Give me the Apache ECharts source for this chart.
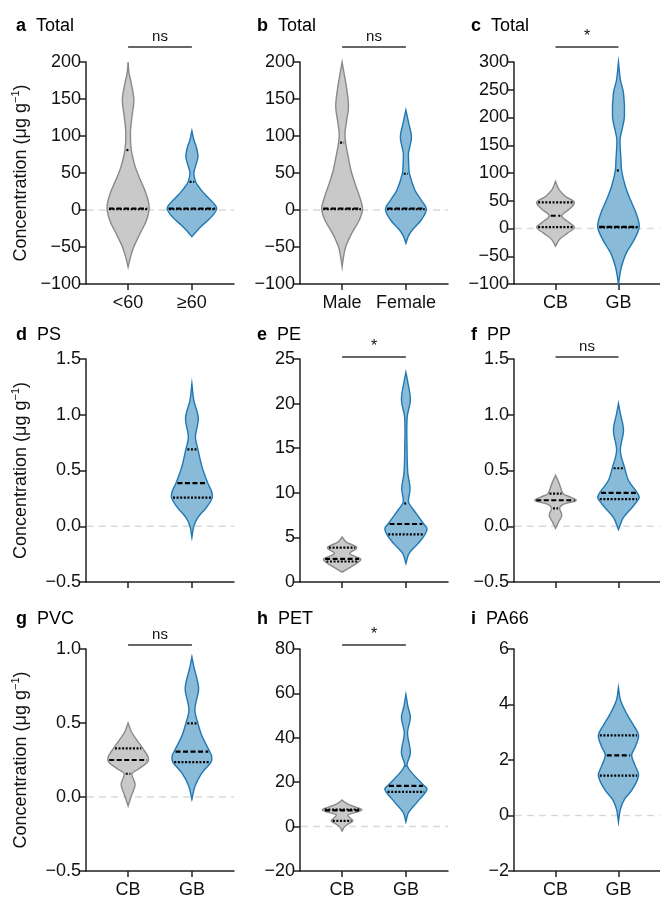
<!DOCTYPE html>
<html><head><meta charset="utf-8">
<script src="https://cdn.jsdelivr.net/npm/echarts@6/dist/echarts.min.js"></script>
<style>html,body{margin:0;padding:0;background:#fff}#c{width:660px;height:899px}</style>
</head><body><div id="c"></div>
<script>
// ---------- data ----------
const panelLetters = ['a','b','c','d','e','f','g','h','i'];
const panelTitles = ['Total','Total','Total','PS','PE','PP','PVC','PET','PA66'];
const xCategories = [['<60','≥60'],['Male','Female'],['CB','GB'],['',''],['',''],['',''],['CB','GB'],['CB','GB'],['CB','GB']];
const yMin = [-100,-100,-100,-0.5,0,-0.5,-0.5,-20,-2];
const yMax = [200,200,300,1.5,25,1.5,1.0,80,6];
const yStep = [50,50,50,0.5,5,0.5,0.5,20,2];
const yDecimals = [0,0,0,1,0,1,1,0,0];
const significance = ['ns','ns','*','','*','ns','ns','*',''];

// violin profiles: [concentration, half-width of density in category units]
const violinA = [
  [[200,0],[185,0.015],[171,0.05],[149,0.09],[126,0.06],[104,0.036],[81,0.05],[59,0.11],[45,0.17],[22.5,0.28],[4.5,0.33],[-13.5,0.29],[-31.5,0.19],[-49.5,0.09],[-63,0.04],[-77,0]],
  [[107,0],[95,0.03],[85,0.07],[72,0.095],[60,0.06],[50,0.03],[38,0.06],[30,0.12],[22.5,0.19],[9,0.34],[2,0.39],[-9,0.31],[-22.5,0.14],[-30,0.06],[-36,0]]
];
const violinB = [
  [[200,0],[185,0.03],[165,0.07],[140,0.1],[120,0.07],[104,0.045],[91,0.055],[70,0.1],[50,0.15],[31.5,0.22],[13.5,0.29],[1,0.32],[-13.5,0.27],[-31.5,0.15],[-50,0.055],[-65,0.02],[-77,0]],
  [[135,0],[117,0.045],[99,0.087],[85,0.06],[76.6,0.04],[60,0.045],[49.5,0.055],[27,0.14],[13.5,0.24],[1,0.32],[-13.5,0.24],[-27,0.1],[-35,0.04],[-45,0]]
];
const violinC = [
  [[85,0],[70,0.055],[57.7,0.16],[47,0.3],[35,0.22],[23,0.1],[12,0.2],[2.4,0.3],[-8.4,0.19],[-20,0.06],[-32,0]],
  [[300,0],[268,0.03],[244,0.08],[202,0.095],[175,0.05],[160,0.025],[124,0.04],[104.5,0.05],[75.7,0.11],[51.6,0.19],[27.6,0.28],[3.3,0.33],[-20,0.25],[-44,0.125],[-68,0.05],[-85,0.02],[-100,0]]
];
const violinD = [
  null,
  [[1.28,0],[1.13,0.03],[0.97,0.1],[0.8,0.055],[0.69,0.095],[0.53,0.16],[0.386,0.25],[0.31,0.31],[0.257,0.32],[0.17,0.23],[0.08,0.095],[0.0,0.03],[-0.1,0]]
];
const violinE = [
  [[5.05,0],[4.5,0.06],[3.85,0.23],[3.2,0.12],[2.6,0.29],[2.3,0.27],[1.7,0.14],[1.1,0]],
  [[23.5,0],[22.6,0.025],[20.4,0.07],[18.5,0.02],[14.8,0.018],[12.2,0.03],[10.5,0.065],[9.2,0.04],[8.8,0.05],[7.7,0.16],[6.5,0.28],[6.0,0.33],[5.35,0.3],[4.3,0.19],[3.2,0.05],[2.06,0]]
];
const violinF = [
  [[0.458,0],[0.38,0.06],[0.293,0.12],[0.265,0.22],[0.233,0.33],[0.21,0.2],[0.19,0.1],[0.16,0.065],[0.1,0.1],[0.04,0.05],[-0.02,0]],
  [[1.1,0],[1.01,0.03],[0.86,0.08],[0.68,0.03],[0.52,0.1],[0.41,0.16],[0.3,0.3],[0.26,0.33],[0.243,0.32],[0.17,0.22],[0.08,0.08],[0.0,0.02],[-0.03,0]]
];
const violinG = [
  [[0.5,0],[0.434,0.06],[0.328,0.23],[0.25,0.32],[0.187,0.16],[0.157,0.06],[0.085,0.11],[0.007,0.05],[-0.06,0]],
  [[0.947,0],[0.88,0.03],[0.77,0.095],[0.72,0.105],[0.59,0.047],[0.497,0.095],[0.41,0.16],[0.306,0.28],[0.277,0.31],[0.236,0.3],[0.164,0.16],[0.074,0.05],[-0.016,0]]
];
const violinH = [
  [[12,0],[11,0.04],[10,0.1],[8.7,0.22],[7.5,0.31],[6.3,0.2],[5.2,0.09],[3.8,0.13],[2.55,0.17],[1.2,0.1],[0,0.04],[-2,0]],
  [[59.5,0],[54.3,0.03],[49,0.07],[42.3,0.025],[33.3,0.07],[28.8,0.025],[27.3,0.02],[24.3,0.09],[18.3,0.29],[17.1,0.33],[15.6,0.31],[10.8,0.17],[6.3,0.04],[2.1,0]]
];
const violinI = [
  null,
  [[4.62,0],[4.17,0.03],[3.69,0.125],[3.21,0.25],[2.89,0.32],[2.49,0.27],[2.17,0.21],[1.77,0.27],[1.44,0.32],[0.94,0.22],[0.58,0.095],[0.22,0.03],[-0.24,0]]
];
// quartiles [Q1, median, Q3]
const quartA = [[1,2,81],[1,2,38]];
const quartB = [[1,2,91],[1,2,49]];
const quartC = [[2.4,23,47],[2,3,104.5]];
const quartD = [null,[0.257,0.386,0.69]];
const quartE = [[2.3,2.6,3.85],[5.35,6.5,8.8]];
const quartF = [[0.16,0.233,0.293],[0.243,0.3,0.52]];
const quartG = [[0.157,0.25,0.328],[0.236,0.306,0.497]];
const quartH = [[2.55,7.3,7.7],[15.6,18.3,27.3]];
const quartI = [null,[1.44,2.17,2.89]];

const violins = [violinA,violinB,violinC,violinD,violinE,violinF,violinG,violinH,violinI];
const quartiles = [quartA,quartB,quartC,quartD,quartE,quartF,quartG,quartH,quartI];

// ---------- layout / style ----------
const FONT = '"Liberation Sans", Arial, Helvetica, sans-serif';
const gridLeft = [86, 300, 514];
const gridTop = [62, 359, 649];
const gridH = [222, 223, 223];
const gridW = 148;
const titleTop = [12, 321, 605];
const sigGap = [15, 2, 4];
const palette = [
  {fill:'#c9c9c9', stroke:'#8a8a8a'},
  {fill:'#89bbd8', stroke:'#1f78b4'}
];
const AX = '#222';

function halfWidthAt(prof, v) {
  for (let i = 0; i < prof.length - 1; i++) {
    const a = prof[i], b = prof[i+1];
    if ((v <= a[0] && v >= b[0])) {
      const t = (a[0] - v) / (a[0] - b[0] || 1);
      return a[1] + (b[1] - a[1]) * t;
    }
  }
  return 0;
}
function fmt(v, d) { return v.toFixed(d).replace('-', '−'); }

const chart = echarts.init(document.getElementById('c'));
const grids = [], xAxes = [], yAxes = [], series = [], titles = [];

for (let p = 0; p < 9; p++) {
  const col = p % 3, row = Math.floor(p / 3);
  grids.push({left: gridLeft[col], top: gridTop[row], width: gridW, height: gridH[row]});
  const cats = xCategories[p];
  xAxes.push({
    gridIndex: p, type: 'value', min: 0.34, max: 2.66, position: 'bottom',
    axisLine: {show: true, onZero: false, lineStyle: {color: AX, width: 1.5}},
    axisTick: {show: true, customValues: [1,2], length: 6, lineStyle: {color: AX, width: 1.5}},
    axisLabel: {show: true, customValues: [1,2], formatter: v => cats[Math.round(v)-1],
      fontSize: 18, color: '#111', fontFamily: FONT, margin: 10},
    splitLine: {show: false}
  });
  const dec = yDecimals[p];
  yAxes.push({
    gridIndex: p, type: 'value', min: yMin[p], max: yMax[p], interval: yStep[p],
    axisLine: {show: true, onZero: false, lineStyle: {color: AX, width: 1.5}},
    axisTick: {show: true, length: 6, lineStyle: {color: AX, width: 1.5}},
    axisLabel: {formatter: v => fmt(v, dec), fontSize: 18, color: '#111', fontFamily: FONT, margin: 5},
    splitLine: {show: false},
    name: col === 0 ? '{t|Concentration (μg g}{s|−1}{t|)}' : '',
    nameLocation: 'middle', nameRotate: 90, nameGap: 54,
    nameTextStyle: {fontFamily: FONT, color: '#111',
      rich: {t: {fontSize: 18, fontFamily: FONT, color: '#111', lineHeight: 22},
             s: {fontSize: 11, fontFamily: FONT, color: '#111', verticalAlign: 'top', lineHeight: 22}}}
  });
  titles.push({
    text: '{l|' + panelLetters[p] + '}  {n|' + panelTitles[p] + '}',
    left: col === 0 ? 11 : gridLeft[col] - 48, top: titleTop[row],
    textStyle: {fontWeight: 'normal',
      rich: {l: {fontSize: 18, fontWeight: 'bold', fontFamily: FONT, color: '#000'},
             n: {fontSize: 18, fontWeight: 'normal', fontFamily: FONT, color: '#000'}}}
  });
  // zero reference line (only when zero lies inside the plot)
  if (yMin[p] < 0) {
    series.push({
      type: 'custom', xAxisIndex: p, yAxisIndex: p, z: 1, silent: true,
      data: [[0]],
      renderItem: (params, api) => {
        const a = api.coord([0.34, 0]), b = api.coord([2.66, 0]);
        return {type: 'line', shape: {x1: a[0] + 1, y1: a[1], x2: b[0], y2: b[1]},
          style: {stroke: '#dadada', lineWidth: 1.5, lineDash: [7, 5]}};
      }
    });
  }
  // violins
  const prof = violins[p], qs = quartiles[p];
  series.push({
    type: 'custom', xAxisIndex: p, yAxisIndex: p, z: 2, silent: true, clip: false,
    data: [[1], [2]],
    renderItem: (params, api) => {
      const k = params.dataIndex;
      const pr = prof[k];
      if (!pr) return;
      const cx = api.value(0);
      const right = pr.map(d => api.coord([cx + d[1], d[0]]));
      const left = pr.slice().reverse().map(d => api.coord([cx - d[1], d[0]]));
      const children = [{
        type: 'polygon', shape: {points: right.concat(left), smooth: 0.35},
        style: {fill: palette[k].fill, stroke: palette[k].stroke, lineWidth: 1.4}
      }];
      qs[k].forEach((v, j) => {
        const w = halfWidthAt(pr, v);
        const a = api.coord([cx - w, v]), b = api.coord([cx + w, v]);
        children.push({type: 'line', shape: {x1: a[0] + 1.5, y1: a[1], x2: b[0] - 1.5, y2: b[1]},
          style: {stroke: '#000', lineWidth: 2.2, lineDash: j === 1 ? [5, 2.5] : [2, 1.6]}});
      });
      return {type: 'group', children};
    }
  });
  // significance bar
  if (significance[p]) {
    const label = significance[p];
    const gap = sigGap[row];
    series.push({
      type: 'custom', xAxisIndex: p, yAxisIndex: p, z: 3, silent: true, clip: false,
      data: [[1]],
      renderItem: (params, api) => {
        const a = api.coord([1, yMax[p]]), b = api.coord([2, yMax[p]]);
        const y = a[1] - gap;
        return {type: 'group', children: [
          {type: 'line', shape: {x1: a[0], y1: y, x2: b[0], y2: y}, style: {stroke: '#333', lineWidth: 1.5}},
          {type: 'text', x: (a[0] + b[0]) / 2, y: y - (label === '*' ? 2 : 3),
            style: {text: label, fill: '#111', fontSize: label === '*' ? 16 : 15, fontFamily: FONT,
              align: 'center', verticalAlign: 'bottom'}}
        ]};
      }
    });
  }
}

chart.setOption({
  animation: false,
  backgroundColor: '#fff',
  title: titles,
  grid: grids,
  xAxis: xAxes,
  yAxis: yAxes,
  series: series
});
</script>
</body></html>
